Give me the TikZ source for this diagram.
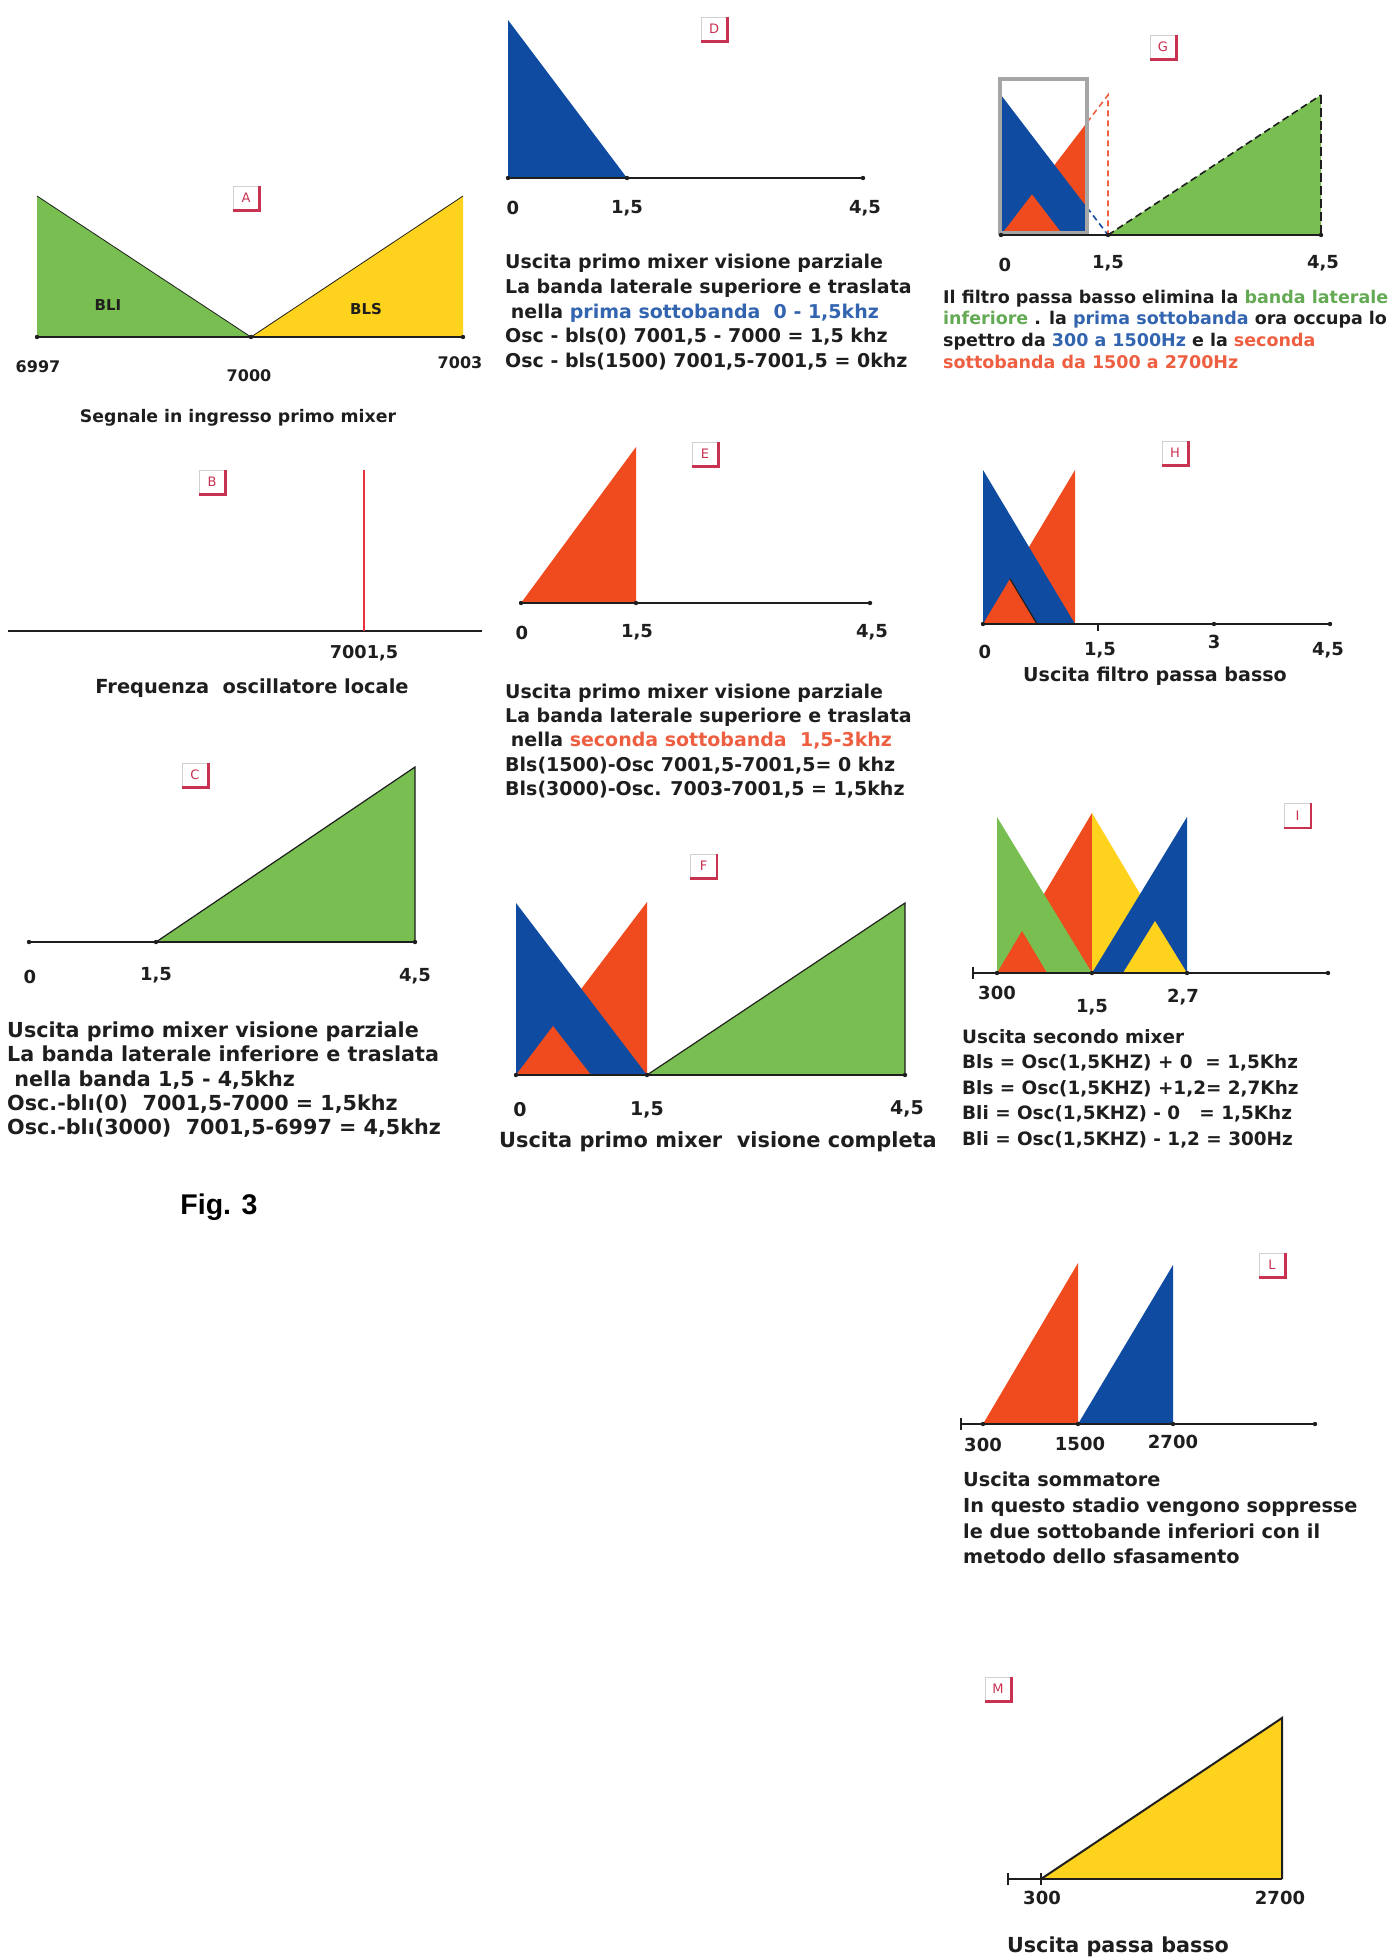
\documentclass[tikz,border=0pt]{standalone}
\usepackage{fontspec}
\setmainfont{DejaVu Sans}
\newfontfamily\figfont{Liberation Sans}
\definecolor{cgreen}{RGB}{120,190,80}
\definecolor{cyellow}{RGB}{255,210,30}
\definecolor{cblue}{RGB}{15,75,160}
\definecolor{cred}{RGB}{240,75,30}
\definecolor{tblue}{RGB}{50,100,175}
\definecolor{tgreen}{RGB}{100,170,85}
\definecolor{tred}{RGB}{238,95,65}
\definecolor{ink}{RGB}{30,30,30}
\definecolor{tagred}{RGB}{200,50,80}
\definecolor{lineRed}{RGB}{230,50,60}
\newcommand\fs[2]{\fontsize{#1}{#2}\selectfont\bfseries}
\begin{document}
\begin{tikzpicture}[x=1pt,y=-1pt,
  axisline/.style={draw=ink,line width=1.6pt},
  edge/.style={draw=ink,line width=1.2pt},
  tagbox/.style={draw=black!18,fill=white,line width=1pt,minimum width=26pt,minimum height=24pt,inner sep=0pt,text=tagred,font=\fontsize{13}{13}\selectfont},
  tagshadow/.style={draw=tagred,line width=2.2pt},
  num/.style={inner sep=0pt,text=ink},
  txt/.style={inner sep=0pt,text=ink,align=left,anchor=north west},
  captxt/.style={inner sep=0pt,text=ink}]
\useasboundingbox (0,0) rectangle (1393,1957);

% ---------------- Panel A
\fill[cgreen] (37,196) -- (37,337) -- (251,337) -- cycle;
\fill[cyellow] (251,337) -- (463,196) -- (463,337) -- cycle;
\draw[ink,line width=0.8pt] (37,196) -- (251,337) -- (463,196);
\draw[axisline] (37,337) -- (463,337);
\foreach \x in {37,251,463} \fill[ink] (\x,337) circle (2.2pt);
\node[tagbox] (tA) at (246,198) {A};
\draw[tagshadow] (tA.north east) -- (tA.south east) -- (tA.south west);
\node[num,font=\fs{15}{15}] (bli) at (108,305) {BLI};
\node[num,font=\fs{15}{15}] (bls) at (366,309) {BLS};
\node[num,font=\fs{16}{16}] (a1) at (38,367) {6997};
\node[num,font=\fs{16}{16}] (a2) at (249,376) {7000};
\node[num,font=\fs{16}{16}] (a3) at (460,363) {7003};
\node[captxt,font=\fs{17.3}{20}] (capA) at (238,418) {Segnale in ingresso primo mixer};

% ---------------- Panel B
\node[tagbox] (tB) at (212,482) {B};
\draw[tagshadow] (tB.north east) -- (tB.south east) -- (tB.south west);
\draw[axisline] (8,631) -- (482,631);
\draw[lineRed,line width=2pt] (364,470) -- (364,631);
\node[num,font=\fs{17.7}{18}] (b1) at (364,653) {7001,5};
\node[captxt,font=\fs{19.4}{22}] (capB) at (252,688) {Frequenza\ \ oscillatore locale};

% ---------------- Panel C
\node[tagbox] (tC) at (195,775) {C};
\draw[tagshadow] (tC.north east) -- (tC.south east) -- (tC.south west);
\fill[cgreen] (156,942) -- (415,767) -- (415,942) -- cycle;
\draw[edge] (156,942) -- (415,767) -- (415,942);
\draw[axisline] (29,942) -- (415,942);
\foreach \x in {29,156,415} \fill[ink] (\x,942) circle (2.2pt);
\node[num,font=\fs{18}{18}] (c1) at (30,977) {0};
\node[num,font=\fs{18}{18}] (c2) at (156,975) {1,5};
\node[num,font=\fs{18}{18}] (c3) at (415,976) {4,5};
\node[txt,font=\fs{20.7}{24.2}] (txtC) at (7,1021.7) {Uscita primo mixer visione parziale\\
La banda laterale inferiore e traslata\\
\hspace*{0.35em}nella banda 1,5 - 4,5khz\\
Osc.-blı(0)\ \ 7001,5-7000 = 1,5khz\\
Osc.-blı(3000)\ \ 7001,5-6997 = 4,5khz};

% ---------------- Panel D
\node[tagbox] (tD) at (714,29) {D};
\draw[tagshadow] (tD.north east) -- (tD.south east) -- (tD.south west);
\fill[cblue] (508,20) -- (508,178) -- (627,178) -- cycle;
\draw[axisline] (508,178) -- (863,178);
\foreach \x in {508,627,863} \fill[ink] (\x,178) circle (2.2pt);
\node[num,font=\fs{18}{18}] (d1) at (513,208) {0};
\node[num,font=\fs{18}{18}] (d2) at (627,208) {1,5};
\node[num,font=\fs{18}{18}] (d3) at (865,208) {4,5};
\node[txt,font=\fs{19}{24.75}] (txtD) at (505,254) {Uscita primo mixer visione parziale\\
La banda laterale superiore e traslata\\
\hspace*{0.3em}nella \textcolor{tblue}{prima sottobanda\ \ 0 - 1,5khz}\\
Osc - bls(0) 7001,5 - 7000 = 1,5 khz\\
Osc - bls(1500) 7001,5-7001,5 = 0khz};

% ---------------- Panel E
\node[tagbox] (tE) at (705,454) {E};
\draw[tagshadow] (tE.north east) -- (tE.south east) -- (tE.south west);
\fill[cred] (521,603) -- (636,447) -- (636,603) -- cycle;
\draw[axisline] (521,603) -- (870,603);
\foreach \x in {521,636,870} \fill[ink] (\x,603) circle (2.2pt);
\node[num,font=\fs{18}{18}] (e1) at (522,633) {0};
\node[num,font=\fs{18}{18}] (e2) at (637,632) {1,5};
\node[num,font=\fs{18}{18}] (e3) at (872,632) {4,5};
\node[txt,font=\fs{19}{24.15}] (txtE) at (505,684) {Uscita primo mixer visione parziale\\
La banda laterale superiore e traslata\\
\hspace*{0.3em}nella \textcolor{tred}{seconda sottobanda\ \ 1,5-3khz}\\
Bls(1500)-Osc 7001,5-7001,5= 0 khz\\
Bls(3000)-Osc. 7003-7001,5 = 1,5khz};

% ---------------- Panel F
\node[tagbox] (tF) at (703.5,866) {F};
\draw[tagshadow] (tF.north east) -- (tF.south east) -- (tF.south west);
\fill[cred] (516,1075) -- (647,902) -- (647,1075) -- cycle;
\fill[cblue] (516,903) -- (516,1075) -- (647,1075) -- cycle;
\fill[cred] (516,1075) -- (553,1026) -- (591,1075) -- cycle;
\fill[cgreen] (647,1075) -- (905,903) -- (905,1075) -- cycle;
\draw[edge] (647,1075) -- (905,903) -- (905,1075);
\draw[axisline] (516,1075) -- (905,1075);
\foreach \x in {516,647,905} \fill[ink] (\x,1075) circle (2.2pt);
\node[num,font=\fs{19}{19}] (f1) at (520,1110) {0};
\node[num,font=\fs{19}{19}] (f2) at (647,1110) {1,5};
\node[num,font=\fs{19}{19}] (f3) at (907,1109) {4,5};
\node[captxt,font=\fs{20.9}{24}] (capF) at (718,1142) {Uscita primo mixer\ \ visione completa};

% ---------------- Panel G
\node[tagbox] (tG) at (1163,47) {G};
\draw[tagshadow] (tG.north east) -- (tG.south east) -- (tG.south west);
\begin{scope}
\clip (995,60) rectangle (1087,240);
\fill[cred] (1001,235) -- (1108,95) -- (1108,235) -- cycle;
\fill[cblue] (1001,95) -- (1001,235) -- (1108,235) -- cycle;
\fill[cred] (1001,235) -- (1032,194.4) -- (1063,235) -- cycle;
\end{scope}
\draw[cblue,line width=1.6pt,dash pattern=on 6pt off 4pt] (1087,207.5) -- (1108,235);
\draw[tred,line width=1.6pt,dash pattern=on 6pt off 4pt] (1087,122.5) -- (1108,95) -- (1108,235);
\fill[cgreen] (1108,235) -- (1321,95) -- (1321,235) -- cycle;
\draw[ink,line width=1.6pt,dash pattern=on 7pt off 4pt] (1108,235) -- (1321,95);
\draw[ink,line width=2.6pt,dash pattern=on 9pt off 4pt] (1321,95) -- (1321,235);
\draw[black!35,line width=4pt] (1000,79) rectangle (1087,233);
\draw[axisline] (1001,235) -- (1321,235);
\foreach \x in {1001,1108,1321} \fill[ink] (\x,235) circle (2.2pt);
\node[num,font=\fs{18}{18}] (g1) at (1005,265) {0};
\node[num,font=\fs{18}{18}] (g2) at (1108,263) {1,5};
\node[num,font=\fs{18}{18}] (g3) at (1323,263) {4,5};
\node[txt,font=\fs{17.5}{21.7}] (txtG) at (943,289.7) {Il filtro passa basso elimina la \textcolor{tgreen}{banda laterale}\\
\textcolor{tgreen}{inferiore} . la \textcolor{tblue}{prima sottobanda} ora occupa lo\\
spettro da \textcolor{tblue}{300 a 1500Hz} e la \textcolor{tred}{seconda}\\
\textcolor{tred}{sottobanda da 1500 a 2700Hz}};

% ---------------- Panel H
\node[tagbox] (tH) at (1175,453) {H};
\draw[tagshadow] (tH.north east) -- (tH.south east) -- (tH.south west);
\fill[cred] (983,624) -- (1075,470) -- (1075,624) -- cycle;
\fill[cblue] (983,470) -- (983,624) -- (1075,624) -- cycle;
\fill[cred] (983,624) -- (1010,578.8) -- (1037,624) -- cycle;
\draw[ink,line width=1.2pt] (1010,578.8) -- (1037,624);
\draw[axisline] (983,624) -- (1330,624);
\draw[axisline] (1098,624) -- (1098,631);
\foreach \x in {983,1214,1330} \fill[ink] (\x,624) circle (2.2pt);
\node[num,font=\fs{18}{18}] (h1) at (985,652) {0};
\node[num,font=\fs{18}{18}] (h2) at (1100,650) {1,5};
\node[num,font=\fs{18}{18}] (h3) at (1214,642) {3};
\node[num,font=\fs{18}{18}] (h4) at (1328,650) {4,5};
\node[captxt,font=\fs{19.1}{22}] (capH) at (1155,676) {Uscita filtro passa basso};

% ---------------- Panel I
\node[tagbox] (tI) at (1297.5,815.5) {I};
\draw[tagshadow] (tI.north east) -- (tI.south east) -- (tI.south west);
\fill[cred] (997,973) -- (1092,813) -- (1092,973) -- cycle;
\fill[cgreen] (997,817) -- (997,973) -- (1092,973) -- cycle;
\fill[cred] (997,973) -- (1022,931) -- (1047,973) -- cycle;
\fill[cyellow] (1092,813) -- (1092,973) -- (1187,973) -- cycle;
\fill[cblue] (1092,973) -- (1187,817) -- (1187,973) -- cycle;
\fill[cyellow] (1123,973) -- (1155,921) -- (1187,973) -- cycle;
\draw[axisline] (973,973) -- (1328,973);
\draw[axisline] (973,967) -- (973,979);
\foreach \x in {997,1092,1187,1328} \fill[ink] (\x,973) circle (2.2pt);
\node[num,font=\fs{18}{18}] (i1) at (997,993) {300};
\node[num,font=\fs{18}{18}] (i2) at (1092,1007) {1,5};
\node[num,font=\fs{18}{18}] (i3) at (1183,997) {2,7};
\node[txt,font=\fs{18.4}{25.4}] (txtI) at (962,1029.3) {Uscita secondo mixer\\
Bls = Osc(1,5KHZ) + 0\ \ = 1,5Khz\\
Bls = Osc(1,5KHZ) +1,2= 2,7Khz\\
Bli = Osc(1,5KHZ) - 0\ \ \ = 1,5Khz\\
Bli = Osc(1,5KHZ) - 1,2 = 300Hz};

% ---------------- Panel L
\node[tagbox] (tL) at (1272,1265) {L};
\draw[tagshadow] (tL.north east) -- (tL.south east) -- (tL.south west);
\fill[cred] (983,1424) -- (1078,1263) -- (1078,1424) -- cycle;
\fill[cblue] (1078,1424) -- (1173,1265) -- (1173,1424) -- cycle;
\draw[axisline] (961,1424) -- (1315,1424);
\draw[axisline] (961,1418) -- (961,1430);
\foreach \x in {983,1078,1173,1315} \fill[ink] (\x,1424) circle (2.2pt);
\node[num,font=\fs{18}{18}] (l1) at (983,1445) {300};
\node[num,font=\fs{18}{18}] (l2) at (1080,1444) {1500};
\node[num,font=\fs{18}{18}] (l3) at (1173,1442) {2700};
\node[txt,font=\fs{19.3}{25.6}] (txtL) at (963,1472) {Uscita sommatore\\
In questo stadio vengono soppresse\\
le due sottobande inferiori con il\\
metodo dello sfasamento};

% ---------------- Panel M
\node[tagbox] (tM) at (998,1689) {M};
\draw[tagshadow] (tM.north east) -- (tM.south east) -- (tM.south west);
\fill[cyellow] (1041,1879) -- (1282,1718) -- (1282,1879) -- cycle;
\draw[ink,line width=2pt] (1041,1879) -- (1282,1718) -- (1282,1879);
\draw[axisline] (1008,1879) -- (1282,1879);
\draw[axisline] (1008,1873) -- (1008,1885);
\draw[axisline] (1041,1873) -- (1041,1885);
\node[num,font=\fs{18}{18}] (m1) at (1042,1898) {300};
\node[num,font=\fs{18}{18}] (m2) at (1280,1898) {2700};
\node[captxt,font=\fs{20.7}{24}] (capM) at (1118,1947) {Uscita passa basso};

% ---------------- Figure label
\node[inner sep=0pt,text=black,font=\fontsize{28.5}{30}\selectfont\figfont\bfseries] (fig) at (219,1207) {Fig. 3};
\end{tikzpicture}
\end{document}
